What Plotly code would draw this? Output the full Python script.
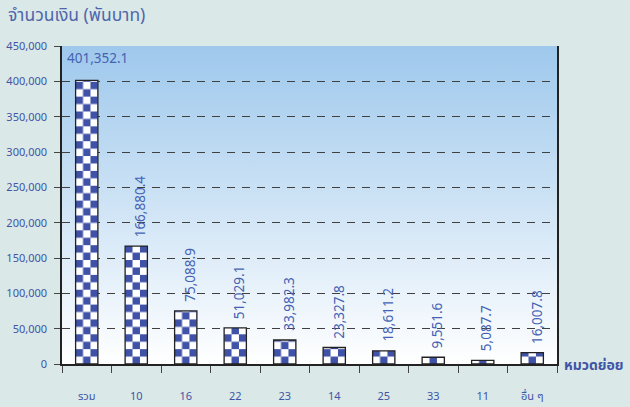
import base64
import plotly.graph_objects as go

# ---- data ----
categories = ["รวม", "10", "16", "22", "23", "14", "25", "33", "11", "อื่น ๆ"]
values = [401352.1, 166880.4, 75088.9, 51029.1, 33982.3, 23327.8, 18611.2, 9551.6, 5087.7, 16007.8]
y_tickvals = [0, 50000, 100000, 150000, 200000, 250000, 300000, 350000, 400000, 450000]
y_title = "จำนวนเงิน (พันบาท)"
x_title = "หมวดย่อย"

# ---- styles ----
FONT = "Noto Sans, Noto Sans Thai, sans-serif"
TXT = "#3f55a5"
LBL = "#4462b4"
CHECK_BLUE = "#3f52a8"

labels = [f"{v:,.1f}" for v in values]

fig = go.Figure()
fig.add_trace(go.Bar(
    x=categories, y=values, width=0.45,
    marker=dict(color=CHECK_BLUE, line=dict(color="#222222", width=1.3)),
    hoverinfo="skip",
))

annotations = []
for i, (v, t) in enumerate(zip(values, labels)):
    if i == 0:
        annotations.append(dict(
            x=0, xref="paper", xanchor="left", xshift=3,
            y=v, yref="y", yanchor="bottom", yshift=11,
            text=t, showarrow=False, font=dict(family=FONT, size=13.5, color=LBL)))
    else:
        annotations.append(dict(
            x=i, xref="x", xanchor="center", xshift=4,
            y=v, yref="y", yanchor="bottom", yshift=7,
            text=t, textangle=-90, showarrow=False,
            font=dict(family=FONT, size=13.5, color=LBL)))

annotations.append(dict(
    x=1, xref="paper", xanchor="left", xshift=5,
    y=0, yref="y", yanchor="middle",
    text=f"<b>{x_title}</b>", showarrow=False,
    font=dict(family=FONT, size=14, color=TXT)))

grad_svg = (
    '<svg xmlns="http://www.w3.org/2000/svg" width="100" height="100" viewBox="0 0 100 100" '
    'preserveAspectRatio="none"><defs><linearGradient id="g" x1="0" y1="0" x2="0" y2="1">'
    '<stop offset="0" stop-color="#9ec8ec"/><stop offset="1" stop-color="#ffffff"/>'
    '</linearGradient></defs><rect width="100" height="100" fill="url(#g)"/></svg>'
)
grad_src = "data:image/svg+xml;base64," + base64.b64encode(grad_svg.encode()).decode()

fig.update_layout(
    width=630, height=407,
    margin=dict(l=62, r=73, t=46, b=43, autoexpand=False),
    paper_bgcolor="#dae8e8",
    plot_bgcolor="rgba(0,0,0,0)",
    showlegend=False,
    font=dict(family=FONT, color=TXT),
    title=dict(text=y_title, x=8 / 630, xref="container", xanchor="left",
               y=1 - 15 / 407, yref="container", yanchor="middle",
               font=dict(family=FONT, size=17.5, color="#5066aa")),
    images=[dict(source=grad_src, xref="paper", yref="paper", x=0, y=1,
                 sizex=1, sizey=1, sizing="stretch", xanchor="left", yanchor="top",
                 layer="below")],
    annotations=annotations,
)

fig.update_xaxes(
    type="category", showgrid=False, showline=True, linecolor="#222222", linewidth=1.5,
    ticks="outside", tickson="boundaries", ticklen=7, tickcolor="#444444", tickwidth=1.2,
    tickfont=dict(family=FONT, size=11, color=TXT), ticklabelstandoff=21,
    range=[-0.5, 9.5], automargin=False,
)
fig.update_yaxes(
    range=[0, 450000], tickvals=y_tickvals, tickformat=",d",
    showgrid=True, gridcolor="#404040", gridwidth=1.4, griddash="8px,7px",
    showline=True, linecolor="#222222", linewidth=1.5, mirror=True,
    ticks="outside", ticklen=6, tickcolor="#444444", tickwidth=1.2,
    tickfont=dict(family=FONT, size=11, color=TXT), ticklabelstandoff=5,
    zeroline=False, automargin=False,
)

post_js = """
document.body.style.margin='0';
document.body.style.padding='0';
var gd=document.getElementById('{plot_id}');
var ns='http://www.w3.org/2000/svg';
var svg=gd.querySelector('svg.main-svg');
var defs=svg.querySelector('defs');
if(!defs){defs=document.createElementNS(ns,'defs');svg.insertBefore(defs,svg.firstChild);}
var paths=gd.querySelectorAll('.barlayer .point path');
paths.forEach(function(p,i){
  var b=p.getBBox(); var s=b.width/3;
  var pat=document.createElementNS(ns,'pattern');
  pat.setAttribute('id','chk'+i);
  pat.setAttribute('patternUnits','userSpaceOnUse');
  pat.setAttribute('x',b.x); pat.setAttribute('y',b.y+b.height);
  pat.setAttribute('width',2*s); pat.setAttribute('height',2*s);
  function r(x,y,w,h,c){var e=document.createElementNS(ns,'rect');e.setAttribute('x',x);e.setAttribute('y',y);e.setAttribute('width',w);e.setAttribute('height',h);e.setAttribute('fill',c);pat.appendChild(e);}
  r(0,0,2*s,2*s,'#ffffff'); r(0,0,s,s,'%s'); r(s,s,s,s,'%s');
  defs.appendChild(pat);
  p.style.fill='url(#chk'+i+')';
});
""" % (CHECK_BLUE, CHECK_BLUE)

fig.write_html("out.html", post_script=post_js, config={"displayModeBar": False})
